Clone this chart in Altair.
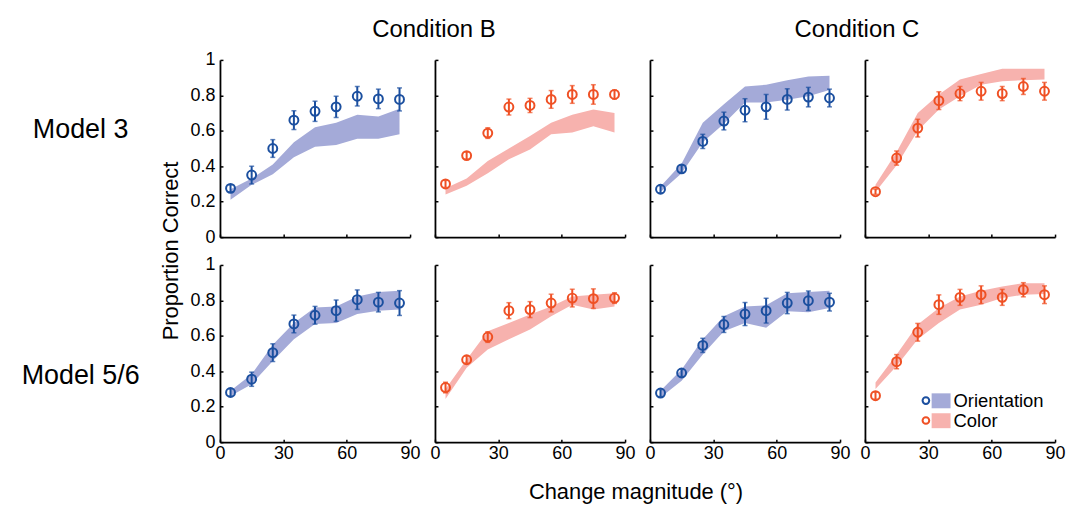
import altair as alt
import pandas as pd

# ---------------- data ----------------
X = [5, 15, 25, 35, 45, 55, 65, 75, 85]

# Model 3, Condition B
M3_B_ORI_MEAN = [0.275, 0.35, 0.50, 0.66, 0.71, 0.735, 0.795, 0.78, 0.777]
M3_B_ORI_ERR = [0.02, 0.05, 0.05, 0.053, 0.057, 0.06, 0.055, 0.055, 0.065]
M3_B_ORI_LO = [0.21, 0.295, 0.355, 0.45, 0.51, 0.52, 0.555, 0.555, 0.58]
M3_B_ORI_HI = [0.27, 0.33, 0.41, 0.535, 0.62, 0.645, 0.69, 0.68, 0.725]

M3_B_COL_MEAN = [0.30, 0.46, 0.587, 0.734, 0.743, 0.777, 0.805, 0.805, 0.805]
M3_B_COL_ERR = [0.02, 0.02, 0.03, 0.045, 0.04, 0.05, 0.05, 0.055, 0.025]
M3_B_COL_LO = [0.24, 0.29, 0.36, 0.44, 0.495, 0.58, 0.59, 0.625, 0.59]
M3_B_COL_HI = [0.275, 0.33, 0.43, 0.50, 0.57, 0.645, 0.69, 0.72, 0.70]

# Model 3, Condition C
M3_C_ORI_MEAN = [0.27, 0.385, 0.54, 0.655, 0.716, 0.735, 0.777, 0.79, 0.785]
M3_C_ORI_ERR = [0.02, 0.02, 0.04, 0.05, 0.065, 0.07, 0.06, 0.055, 0.05]
M3_C_ORI_LO = [0.255, 0.36, 0.535, 0.64, 0.76, 0.76, 0.775, 0.795, 0.83]
M3_C_ORI_HI = [0.285, 0.415, 0.645, 0.75, 0.85, 0.86, 0.885, 0.907, 0.91]

M3_C_COL_MEAN = [0.256, 0.446, 0.615, 0.77, 0.81, 0.823, 0.81, 0.85, 0.823]
M3_C_COL_ERR = [0.015, 0.04, 0.05, 0.05, 0.04, 0.05, 0.04, 0.045, 0.05]
M3_C_COL_LO = [0.255, 0.405, 0.60, 0.72, 0.795, 0.86, 0.88, 0.885, 0.89]
M3_C_COL_HI = [0.295, 0.48, 0.70, 0.805, 0.89, 0.92, 0.95, 0.95, 0.95]

# Model 5/6, Condition B
M56_B_ORI_MEAN = [0.28, 0.355, 0.505, 0.667, 0.716, 0.742, 0.804, 0.79, 0.785]
M56_B_ORI_ERR = [0.02, 0.04, 0.05, 0.05, 0.05, 0.06, 0.055, 0.055, 0.07]
M56_B_ORI_LO = [0.26, 0.327, 0.458, 0.58, 0.667, 0.673, 0.723, 0.742, 0.748]
M56_B_ORI_HI = [0.29, 0.383, 0.55, 0.673, 0.76, 0.766, 0.822, 0.847, 0.854]

M56_B_COL_MEAN = [0.308, 0.465, 0.593, 0.742, 0.748, 0.785, 0.813, 0.81, 0.813]
M56_B_COL_ERR = [0.03, 0.02, 0.03, 0.045, 0.045, 0.05, 0.05, 0.055, 0.03]
M56_B_COL_LO = [0.243, 0.42, 0.523, 0.58, 0.636, 0.71, 0.776, 0.748, 0.766]
M56_B_COL_HI = [0.30, 0.467, 0.626, 0.673, 0.72, 0.766, 0.822, 0.832, 0.84]

# Model 5/6, Condition C
M56_C_ORI_MEAN = [0.277, 0.39, 0.546, 0.664, 0.723, 0.742, 0.785, 0.798, 0.79]
M56_C_ORI_ERR = [0.02, 0.02, 0.04, 0.045, 0.065, 0.07, 0.06, 0.055, 0.05]
M56_C_ORI_LO = [0.252, 0.346, 0.495, 0.626, 0.673, 0.645, 0.738, 0.733, 0.757]
M56_C_ORI_HI = [0.29, 0.41, 0.58, 0.71, 0.766, 0.772, 0.84, 0.847, 0.854]

M56_C_COL_MEAN = [0.262, 0.454, 0.62, 0.776, 0.817, 0.832, 0.817, 0.86, 0.832]
M56_C_COL_ERR = [0.02, 0.04, 0.05, 0.055, 0.045, 0.05, 0.045, 0.04, 0.05]
M56_C_COL_LO = [0.30, 0.43, 0.58, 0.673, 0.748, 0.776, 0.813, 0.832, 0.836]
M56_C_COL_HI = [0.336, 0.495, 0.664, 0.757, 0.822, 0.854, 0.878, 0.897, 0.897]

FEATURES = ["Orientation", "Color"]
BAND_KEYS = ["Orientation|band", "Color|band"]
X_TICKS = [0, 30, 60, 90]
Y_TICKS = [0, 0.2, 0.4, 0.6, 0.8, 1]

COND_B = "Condition B"
COND_C = "Condition C"
ROW_1 = "Model 3"
ROW_2 = "Model 5/6"
Y_TITLE = "Proportion Correct"
X_TITLE = "Change magnitude (°)"

# ---------------- style ----------------
FONT = "Liberation Sans"
POINT_COLORS = {"Orientation": "#1b4f9f", "Color": "#ef5024"}
BAND_COLORS = {"Orientation": "#a4aad8", "Color": "#f7b2ae"}
W, H = 191, 178
LEFT_W = 195
GAP = 25


def axis_x(show):
    return alt.Axis(values=X_TICKS, labels=show, title=None, grid=False,
                    domainColor="black", domainWidth=1.8,
                    tickColor="black", tickWidth=1.5, tickSize={"expr": "-3"},
                    labelFont=FONT, labelFontSize=18, labelColor="black",
                    labelPadding=5, labelFlush=False, labelOverlap=False)


def axis_y(show):
    return alt.Axis(values=Y_TICKS, labels=show, title=None, grid=False, format="~g",
                    domainColor="black", domainWidth=1.8,
                    tickColor="black", tickWidth=1.5, tickSize={"expr": "-3"},
                    labelFont=FONT, labelFontSize=18, labelColor="black",
                    labelPadding=8, labelFlush=False, labelOverlap=False)


def panel(mean, err, lo, hi, feature, show_x, show_y, legend=False):
    df = pd.DataFrame({
        "x": X,
        "mean": mean,
        "elo": [m - e for m, e in zip(mean, err)],
        "ehi": [m + e for m, e in zip(mean, err)],
        "blo": lo,
        "bhi": hi,
        "Feature": [feature] * len(X),
        "Band": [feature + "|band"] * len(X),
    })
    xs = alt.Scale(domain=[0, 90], nice=False, zero=False)
    ys = alt.Scale(domain=[0, 1], nice=False)
    xe = alt.X("x:Q", scale=xs, axis=axis_x(show_x))
    base = alt.Chart(df)

    if legend:
        fill_enc = alt.Fill("Band:N",
                            scale=alt.Scale(domain=BAND_KEYS,
                                            range=[BAND_COLORS[f] for f in FEATURES]),
                            legend=alt.Legend(orient="none", legendX=935, legendY=391,
                                              title=None, padding=0,
                                              labelExpr="split(datum.label, '|')[0]",
                                              symbolType="M-1,-0.79L1,-0.79L1,0.79L-1,0.79Z",
                                              symbolSize=361, symbolOpacity=1,
                                              symbolStrokeWidth=0,
                                              labelFont=FONT, labelFontSize=18.5,
                                              labelColor="black", labelOffset=3,
                                              rowPadding=1))
        stroke_enc = alt.Stroke("Feature:N",
                                scale=alt.Scale(domain=FEATURES,
                                                range=[POINT_COLORS[f] for f in FEATURES]),
                                legend=alt.Legend(orient="none", legendX=920, legendY=391,
                                                  title=None, padding=0,
                                                  symbolType="circle", symbolSize=45,
                                                  symbolStrokeWidth=2,
                                                  symbolFillColor="transparent",
                                                  labelExpr="' '",
                                                  labelFont=FONT, labelFontSize=18.5,
                                                  labelOpacity=0, rowPadding=1))
    else:
        fill_enc = alt.value(BAND_COLORS[feature])
        stroke_enc = alt.value(POINT_COLORS[feature])

    area = base.mark_area(opacity=1).encode(
        x=xe,
        y=alt.Y("blo:Q", scale=ys, axis=axis_y(show_y)),
        y2="bhi:Q",
        fill=fill_enc,
    )
    rule = base.mark_rule(strokeWidth=2, color=POINT_COLORS[feature]).encode(
        x=xe, y=alt.Y("elo:Q", scale=ys, axis=axis_y(show_y)), y2="ehi:Q")
    cap_lo = base.mark_tick(orient="horizontal", size=5, thickness=1.5,
                            color=POINT_COLORS[feature]).encode(
        x=xe, y=alt.Y("elo:Q", scale=ys, axis=axis_y(show_y)))
    cap_hi = base.mark_tick(orient="horizontal", size=5, thickness=1.5,
                            color=POINT_COLORS[feature]).encode(
        x=xe, y=alt.Y("ehi:Q", scale=ys, axis=axis_y(show_y)))
    pts = base.mark_point(shape="circle", size=80, strokeWidth=2, filled=False,
                          opacity=1).encode(
        x=xe, y=alt.Y("mean:Q", scale=ys, axis=axis_y(show_y)),
        stroke=stroke_enc)
    return alt.layer(area, rule, cap_lo, cap_hi, pts).properties(width=W, height=H)


def label(text, size, x, y, angle=0):
    return alt.Chart(pd.DataFrame({"t": [text]})).mark_text(
        font=FONT, fontSize=size, color="black", align="center",
        baseline="middle", angle=angle).encode(
        text="t:N", x=alt.value(x), y=alt.value(y))


def blank(w, h):
    return label(" ", 4, w / 2, h / 2).properties(width=w, height=h)


p1 = panel(M3_B_ORI_MEAN, M3_B_ORI_ERR, M3_B_ORI_LO, M3_B_ORI_HI, "Orientation", False, True)
p2 = panel(M3_B_COL_MEAN, M3_B_COL_ERR, M3_B_COL_LO, M3_B_COL_HI, "Color", False, False)
p3 = panel(M3_C_ORI_MEAN, M3_C_ORI_ERR, M3_C_ORI_LO, M3_C_ORI_HI, "Orientation", False, False)
p4 = panel(M3_C_COL_MEAN, M3_C_COL_ERR, M3_C_COL_LO, M3_C_COL_HI, "Color", False, False)
p5 = panel(M56_B_ORI_MEAN, M56_B_ORI_ERR, M56_B_ORI_LO, M56_B_ORI_HI, "Orientation", True, True)
p6 = panel(M56_B_COL_MEAN, M56_B_COL_ERR, M56_B_COL_LO, M56_B_COL_HI, "Color", True, False)
p7 = panel(M56_C_ORI_MEAN, M56_C_ORI_ERR, M56_C_ORI_LO, M56_C_ORI_HI, "Orientation", True, False)
p8 = panel(M56_C_COL_MEAN, M56_C_COL_ERR, M56_C_COL_LO, M56_C_COL_HI, "Color", True, False,
           legend=True)

HEAD_H = 30
FOOT_H = 36
PLOT_LEFT = LEFT_W + GAP

header = alt.layer(
    label(COND_B, 24, 435 - PLOT_LEFT, 28),
    label(COND_C, 24, 860 - PLOT_LEFT, 28),
).properties(width=W, height=HEAD_H)

left1 = alt.layer(
    label(ROW_1, 27, 80, 70),
    label(Y_TITLE, 22, 171, 192, angle=270),
).properties(width=LEFT_W, height=H)
left2 = label(ROW_2, 27, 80, 112).properties(width=LEFT_W, height=H)

footer = label(X_TITLE, 22, 638 - PLOT_LEFT, 22).properties(width=W, height=FOOT_H)

cells = [
    blank(LEFT_W, HEAD_H), header, blank(W, HEAD_H), blank(W, HEAD_H), blank(W, HEAD_H),
    left1, p1, p2, p3, p4,
    left2, p5, p6, p7, p8,
    blank(LEFT_W, FOOT_H), footer,
]

chart = alt.concat(*cells, columns=5, spacing=alt.RowColnumber(row=28, column=GAP),
                   bounds="flush", align="each").properties(
    padding=0, background="white"
).configure_view(stroke="transparent")

chart.save("out.html", embed_options={"renderer": "svg", "actions": False})
